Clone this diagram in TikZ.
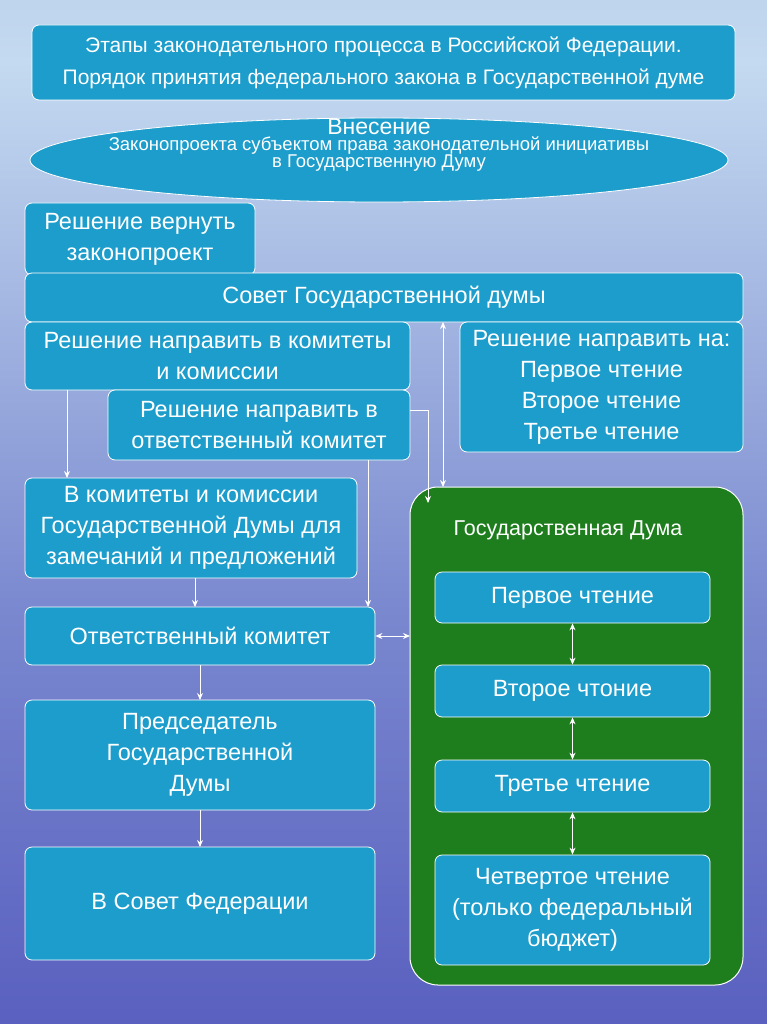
\documentclass[tikz,border=0pt]{standalone}
\usepackage{fontspec}
\setmainfont{Liberation Sans}
\usetikzlibrary{shapes.geometric,arrows.meta}
\definecolor{bgt}{HTML}{3234A4}
\definecolor{bgm}{HTML}{C4DAF0}
\definecolor{bgb}{HTML}{3C44B4}
\definecolor{boxc}{HTML}{1C9DCB}
\definecolor{grn}{HTML}{1E7E1E}
\pgfdeclareverticalshading{sky}{100bp}{
 color(0bp)=(bgb); color(25bp)=(bgb!85!white); color(45bp)=(bgm!45!bgb);
 color(62bp)=(bgm!80!bgb); color(72bp)=(bgm); color(80bp)=(bgm!90!bgt); color(90bp)=(bgm!45!bgt); color(100bp)=(bgt)}
\tikzset{
 bx/.style={draw=white,line width=0.8pt,fill=boxc,rounded corners=7pt,text=white,align=center,font=\fontsize{23.5}{31}\selectfont},
 ar/.style={draw=white,line width=0.9pt,-{Stealth[length=7pt,width=6pt]}},
 dar/.style={draw=white,line width=0.9pt,{Stealth[length=7pt,width=6pt]}-{Stealth[length=7pt,width=6pt]}},
}
\begin{document}
\begin{tikzpicture}[x=1pt,y=-1pt]
\shade[shading=sky] (0,0) rectangle (767,1024);
\useasboundingbox (0,0) rectangle (767,1024);
\node[bx,minimum width=703,minimum height=75,inner sep=0pt,font=\fontsize{21}{32}\selectfont] (title) at (383.5,62.5) {Этапы законодательного процесса в Российской Федерации.\\Порядок принятия федерального закона в Государственной думе};
\node[draw=white,line width=0.8pt,fill=boxc,ellipse,minimum width=698,minimum height=84,inner sep=0pt] (ell) at (379,160) {};
\node[text=white,align=center] (elt) at (379,145) {\fontsize{23}{26}\selectfont Внесение\\[1pt]\fontsize{18.5}{25}\selectfont Законопроекта субъектом права законодательной инициативы\\\fontsize{18.5}{25}\selectfont в Государственную Думу};
\node[bx,minimum width=230,minimum height=72] (ret) at (140,239) {Решение вернуть\\законопроект};
\node[bx,minimum width=718,minimum height=49] (sov) at (384,297.5) {Совет Государственной думы};
\node[bx,minimum width=385,minimum height=68,inner sep=0pt] (kom) at (217.5,356) {Решение направить в комитеты\\и комиссии};
\node[bx,minimum width=283,minimum height=130,inner sep=0pt] (chten) at (601.5,387) {Решение направить на:\\Первое чтение\\Второе чтение\\Третье чтение};
\node[bx,minimum width=302,minimum height=70,inner sep=0pt] (otv) at (259,425) {Решение направить в\\ответственный комитет};
\node[bx,minimum width=332,minimum height=100,inner sep=0pt] (zam) at (191,528) {В комитеты и комиссии\\Государственной Думы для\\замечаний и предложений};
\node[draw=white,line width=1pt,fill=grn,rounded corners=28pt,minimum width=333,minimum height=498] (gd) at (576.5,736) {};
\node[text=white,font=\fontsize{21.5}{24}\selectfont] (gdt) at (568,530) {Государственная Дума};
\node[bx,minimum width=350,minimum height=58] (ok) at (200,636) {Ответственный комитет};
\node[bx,minimum width=350,minimum height=110,inner sep=0pt] (pred) at (200,755) {Председатель\\Государственной\\Думы};
\node[bx,minimum width=350,minimum height=113] (sf) at (200,903.5) {В Совет Федерации};
\node[bx,minimum width=275,minimum height=51] (r1) at (572.5,597.5) {Первое чтение};
\node[bx,minimum width=275,minimum height=52] (r2) at (572.5,691) {Второе чтоние};
\node[bx,minimum width=275,minimum height=52] (r3) at (572.5,786) {Третье чтение};
\node[bx,minimum width=275,minimum height=110,inner sep=0pt] (r4) at (572.5,910) {Четвертое чтение\\(только федеральный\\бюджет)};
\draw[ar] (67,390) -- (67,478);
\coordinate (c1) at (428,410);
\draw[ar] (otv.east |- c1) -- (c1) -- (428,503);
\draw[dar] (443,322) -- (443,487);
\draw[ar] (368,460) -- (368,607);
\draw[ar] (195,578) -- (195,607);
\draw[dar] (ok.east) -- (410,636);
\draw[ar] (200,665) -- (200,700);
\draw[ar] (200,810) -- (200,847);
\draw[dar] (r1.south) -- (r2.north);
\draw[dar] (r2.south) -- (r3.north);
\draw[dar] (r3.south) -- (r4.north);
\end{tikzpicture}
\end{document}
